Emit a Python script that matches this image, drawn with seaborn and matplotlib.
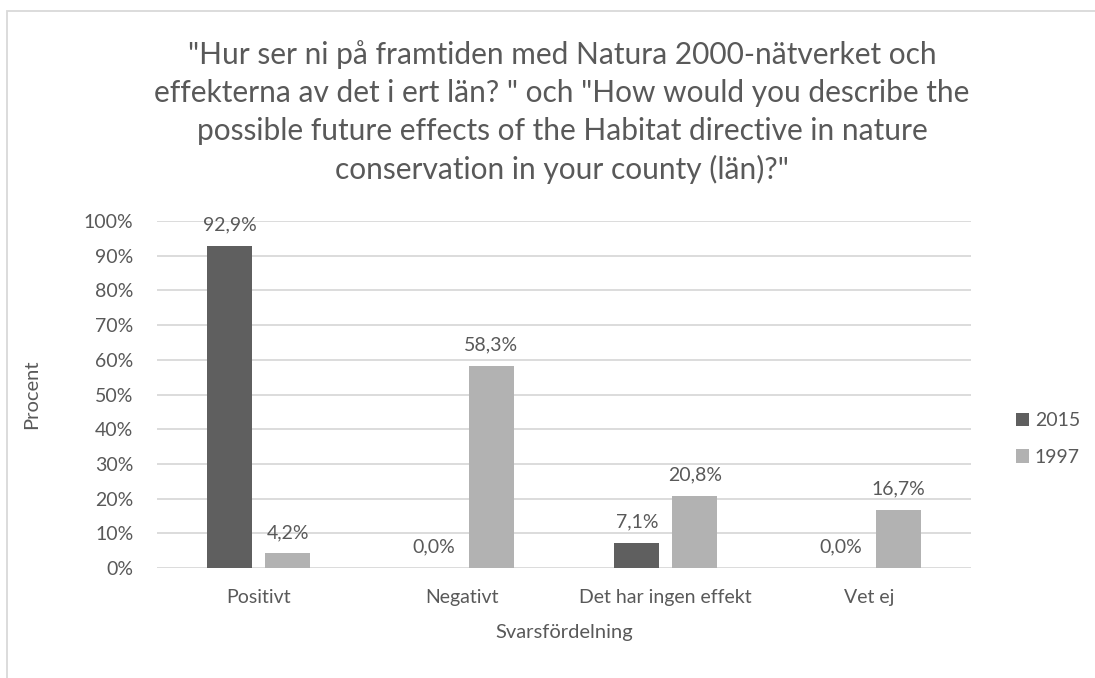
import matplotlib
matplotlib.use('Agg')
import pandas as pd
import matplotlib.pyplot as plt
import seaborn as sns
from matplotlib.patches import Rectangle

# DATA
kategorier = ['Positivt', 'Negativt', 'Det har ingen effekt', 'Vet ej']
serier = ['2015', '1997']
varden_2015 = [92.9, 0.0, 7.1, 0.0]
varden_1997 = [4.2, 58.3, 20.8, 16.7]
y_ticks = [0, 10, 20, 30, 40, 50, 60, 70, 80, 90, 100]

titel = ('"Hur ser ni på framtiden med Natura 2000-nätverket och\n'
         'effekterna av det i ert län? " och "How would you describe the\n'
         'possible future effects of the Habitat directive in nature\n'
         'conservation in your county (län)?"')

df = pd.DataFrame({
    'kategori': kategorier * 2,
    'ar': ['2015'] * len(kategorier) + ['1997'] * len(kategorier),
    'procent': varden_2015 + varden_1997,
})

farger = ['#5f5f5f', '#b2b2b2']
textfarg = '#595959'
gridfarg = '#d9d9d9'

sns.set_theme(style='white')
plt.rcParams['font.family'] = ['Lato', 'DejaVu Sans']

W, H = 1095, 678
fig = plt.figure(figsize=(W / 100, H / 100), dpi=100)
ax = fig.add_axes([157 / W, 1 - 568 / H, (971 - 157) / W, (568 - 221) / H])

sns.barplot(data=df, x='kategori', y='procent', hue='ar', hue_order=serier,
            palette=farger, saturation=1, width=0.57, gap=0.225,
            errorbar=None, ax=ax, linewidth=0)

ax.set_ylim(0, 100)
ax.set_xlim(-0.5, len(kategorier) - 0.5)
ax.set_yticks(y_ticks)
ax.set_yticklabels([f'{v}%' for v in y_ticks])
ax.yaxis.grid(True, color=gridfarg, lw=1.3)
ax.set_axisbelow(True)
for s in ax.spines.values():
    s.set_visible(False)
ax.tick_params(axis='both', length=0, labelsize=14, labelcolor=textfarg)
ax.tick_params(axis='y', pad=17)
ax.tick_params(axis='x', pad=15)

for cont in ax.containers:
    etiketter = [f'{v:.1f}%'.replace('.', ',') for v in cont.datavalues]
    ax.bar_label(cont, labels=etiketter, padding=9, fontsize=14, color=textfarg)

ax.set_xlabel('Svarsfördelning', fontsize=14.5, color=textfarg)
ax.set_ylabel('Procent', fontsize=14.5, color=textfarg)
ax.xaxis.set_label_coords(0.5, (568 - 624) / 347)
ax.xaxis.label.set_va('top')
ax.yaxis.set_label_coords((40 - 157) / 814, 0.5)

# legend till hoger
handtag, _ = ax.get_legend_handles_labels()
ax.legend(handtag, serier, loc='center left', bbox_to_anchor=(1016 / W, 1 - 439 / H),
          bbox_transform=fig.transFigure, frameon=False, fontsize=14,
          handlelength=0.67, handleheight=0.67, handletextpad=0.3,
          labelspacing=1.0, labelcolor=textfarg, borderpad=0, borderaxespad=0)

fig.text(562 / W, 1 - 112 / H, titel, ha='center', va='center', fontsize=21.5,
         color=textfarg, linespacing=1.43, multialignment='center')

# ram runt diagrammet
fig.add_artist(Rectangle((7 / W, -0.2), 1.5, 1.2 - 11 / H, transform=fig.transFigure,
                         fill=False, edgecolor=gridfarg, lw=1.3))

plt.savefig('out.png', dpi=100)
